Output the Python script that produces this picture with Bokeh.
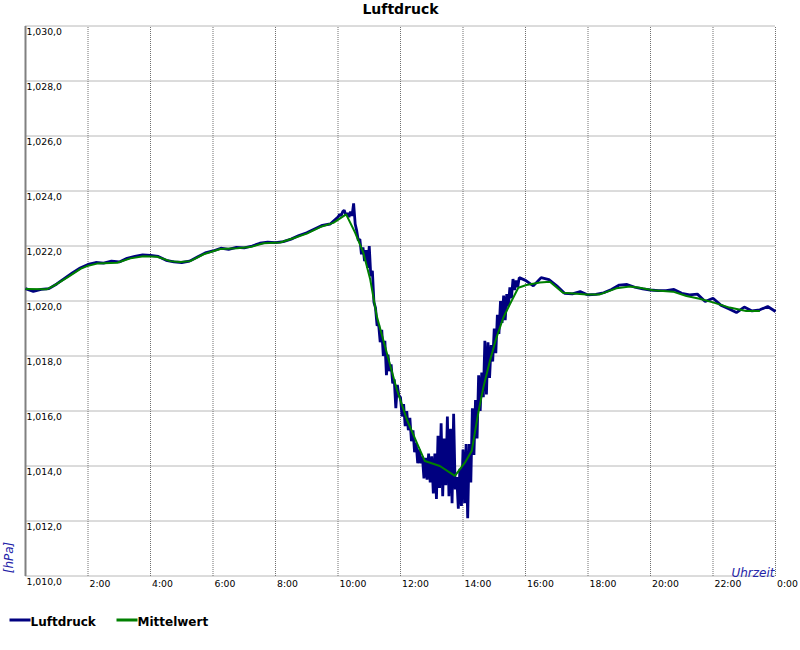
import numpy as np
from bokeh.plotting import figure
from bokeh.models import (Range1d, Label, LabelSet, ColumnDataSource, BoxAnnotation)
from bokeh.core.properties import value
from bokeh.embed import file_html
from bokeh.resources import INLINE

# ---------------- data ----------------
title_text = "Luftdruck"
y_unit = "[hPa]"
x_name = "Uhrzeit"
legend_names = ["Luftdruck", "Mittelwert"]

y_ticks = [1010, 1012, 1014, 1016, 1018, 1020, 1022, 1024, 1026, 1028, 1030]
y_tick_labels = ["1,010,0", "1,012,0", "1,014,0", "1,016,0", "1,018,0", "1,020,0",
                 "1,022,0", "1,024,0", "1,026,0", "1,028,0", "1,030,0"]
x_ticks = [0, 2, 4, 6, 8, 10, 12, 14, 16, 18, 20, 22, 24]
x_label_ticks = [2, 4, 6, 8, 10, 12, 14, 16, 18, 20, 22, 24]
x_tick_labels = ["2:00", "4:00", "6:00", "8:00", "10:00", "12:00", "14:00",
                 "16:00", "18:00", "20:00", "22:00", "0:00"]

# Luftdruck (raw), hours -> hPa
blue_h_a = [0.00, 0.25, 0.50, 0.75, 1.00, 1.25, 1.50, 1.75, 2.00, 2.25, 2.50, 2.75,
            3.00, 3.25, 3.50, 3.75, 4.00, 4.25, 4.50, 4.75, 5.00, 5.25, 5.50, 5.75,
            6.00, 6.25, 6.50, 6.75, 7.00, 7.25, 7.50, 7.75, 8.00, 8.25, 8.50, 8.75,
            9.00, 9.25, 9.50, 9.75]
blue_v_a = [1020.45, 1020.35, 1020.42, 1020.45, 1020.62, 1020.82, 1021.02, 1021.20,
            1021.33, 1021.40, 1021.38, 1021.45, 1021.42, 1021.55, 1021.62, 1021.68,
            1021.66, 1021.62, 1021.48, 1021.42, 1021.40, 1021.45, 1021.60, 1021.75,
            1021.82, 1021.92, 1021.88, 1021.95, 1021.93, 1022.00, 1022.10, 1022.14,
            1022.12, 1022.16, 1022.25, 1022.38, 1022.48, 1022.62, 1022.75, 1022.80]

blue_h_b = [round(10.0 + 0.05 * i, 2) for i in range(117)]  # 10:00 .. 15:48, 3-minute samples
blue_v_b = [
    1023.05, 1023.15, 1023.10, 1023.25, 1023.30, 1023.12, 1023.20, 1023.05, 1023.25, 1023.10,
    1023.55, 1022.80, 1022.55, 1022.20, 1022.25, 1021.70, 1021.95, 1021.45, 1021.85, 1021.20,
    1022.00, 1020.90, 1021.10, 1019.95, 1019.75, 1019.10, 1019.15, 1018.50, 1018.95, 1018.00,
    1018.55, 1017.30, 1018.05, 1017.45, 1017.70, 1017.00, 1017.15, 1016.10, 1016.95, 1016.55,
    1016.50, 1015.80, 1016.25, 1015.45, 1016.00, 1015.30, 1015.75, 1014.90, 1015.30, 1014.50,
    1014.85, 1014.10, 1014.60, 1014.10, 1014.35, 1013.55, 1014.30, 1013.50, 1014.45, 1013.40,
    1014.35, 1013.00, 1014.45, 1012.80, 1015.10, 1013.20, 1015.55, 1012.90, 1015.00, 1013.30,
    1015.80, 1012.90, 1015.35, 1012.65, 1015.90, 1013.15, 1013.60, 1012.45, 1013.90, 1012.55,
    1014.60, 1012.65, 1014.80, 1012.10, 1014.80, 1013.40, 1016.10, 1014.40, 1016.40, 1015.00,
    1017.30, 1016.00, 1017.40, 1016.50, 1018.55, 1016.60, 1018.50, 1017.20, 1018.40, 1017.80,
    1019.00, 1018.10, 1019.50, 1018.80, 1020.00, 1019.20, 1020.20, 1019.30, 1020.25, 1019.80,
    1020.50, 1020.10, 1020.80, 1020.40, 1020.75, 1020.50, 1020.85]

blue_h_c = [16.00, 16.25, 16.50, 16.75, 17.00, 17.25, 17.50, 17.75, 18.00, 18.25, 18.50,
            18.75, 19.00, 19.25, 19.50, 19.75, 20.00, 20.25, 20.50, 20.75, 21.00, 21.25,
            21.50, 21.75, 22.00, 22.25, 22.50, 22.75, 23.00, 23.25, 23.50, 23.75, 24.00]
blue_v_c = [1020.75, 1020.55, 1020.85, 1020.78, 1020.55, 1020.28, 1020.26, 1020.34,
            1020.22, 1020.24, 1020.30, 1020.42, 1020.58, 1020.60, 1020.50, 1020.44,
            1020.40, 1020.38, 1020.38, 1020.42, 1020.28, 1020.22, 1020.25, 1019.98,
            1020.10, 1019.85, 1019.72, 1019.58, 1019.78, 1019.64, 1019.68, 1019.80,
            1019.62]

# Mittelwert (smoothed)
green_h = [0.00, 0.69, 0.90, 1.33, 1.76, 1.97, 2.29, 2.93, 3.36, 3.78, 4.21, 4.63, 4.95,
           5.27, 5.70, 6.23, 6.77, 7.19, 7.62, 8.15, 8.57, 9.00, 9.43, 9.85, 10.26,
           10.55, 10.81, 11.03, 11.24, 11.56, 11.88, 12.20, 12.52, 12.78, 13.26, 13.74,
           14.06, 14.28, 14.49, 14.65, 14.86, 15.07, 15.29, 15.50, 15.77, 16.03, 16.46,
           16.78, 17.20, 17.95, 18.38, 18.91, 19.34, 19.65, 20.08, 20.72, 21.15, 21.57,
           22.00, 22.53, 23.06, 23.38, 23.50]
green_v = [1020.44, 1020.43, 1020.55, 1020.85, 1021.17, 1021.27, 1021.36, 1021.39,
           1021.55, 1021.63, 1021.61, 1021.45, 1021.42, 1021.45, 1021.70, 1021.89,
           1021.92, 1021.96, 1022.10, 1022.13, 1022.28, 1022.45, 1022.69, 1022.84,
           1023.15, 1022.48, 1021.76, 1020.79, 1019.45, 1018.12, 1016.79, 1015.70,
           1014.85, 1014.18, 1014.00, 1013.64, 1014.12, 1014.55, 1015.94, 1016.85,
           1017.82, 1018.67, 1019.39, 1019.88, 1020.48, 1020.58, 1020.67, 1020.70,
           1020.30, 1020.24, 1020.24, 1020.46, 1020.53, 1020.48, 1020.39, 1020.34,
           1020.18, 1020.08, 1019.95, 1019.76, 1019.64, 1019.64, 1019.64]

blue_h = blue_h_a + blue_h_b + blue_h_c
blue_v = blue_v_a + blue_v_b + blue_v_c
assert len(blue_h) == len(blue_v)
assert len(green_h) == len(green_v)

# ---------------- layout ----------------
FONT = "DejaVu Sans"
BLUE = "#000080"
GREEN = "#008000"
GRID = "#707070"
AXIS = "#808080"
LABEL_BLUE = "#2323a8"

W, H = 800, 648
# plot area spans canvas px 25..775 (x) and 25.5..575.5 (y)
PXH = 750 / 24.0
PXV = 550 / 20.0
TOP, BOT = 25.5, 575.5
x0 = 0 - 25 / PXH
x1 = 24 + (W - 775) / PXH
y1 = 1030 + TOP / PXV
y0 = 1010 - (H - BOT) / PXV


def dx(px):  # canvas px -> hours
    return (px - 25) / PXH


def dy(py):  # canvas px -> hPa
    return 1010 + (BOT - py) / PXV


p = figure(width=W, height=H, output_backend="svg", toolbar_location=None,
           x_axis_type=None, y_axis_type=None, title=None,
           x_range=Range1d(x0, x1), y_range=Range1d(y0, y1),
           min_border_left=0, min_border_right=0, min_border_top=0,
           min_border_bottom=0)
p.outline_line_color = None
p.background_fill_color = "white"
p.border_fill_color = "white"

y_lo, y_hi = y_ticks[0], y_ticks[-1]
x_lo, x_hi = x_ticks[0], x_ticks[-1]
vt = x_ticks[1:]
# dotted grid, limited to the plot area
p.segment(x0=vt, y0=[y_lo] * len(vt), x1=vt, y1=[y_hi] * len(vt),
          line_color=GRID, line_width=1, line_dash="1 1")
p.segment(x0=[x_lo] * len(y_ticks), y0=y_ticks, x1=[x_hi] * len(y_ticks), y1=y_ticks,
          line_color=GRID, line_width=1, line_dash="1 1")
# left axis line
p.segment(x0=[x_lo], y0=[y_lo], x1=[x_lo], y1=[y_hi], line_color=AXIS, line_width=2)

p.line(blue_h, blue_v, line_color=BLUE, line_width=2.8)
p.line(green_h, green_v, line_color=GREEN, line_width=2)

# tick labels
ysrc = ColumnDataSource(dict(x=[x_lo] * len(y_ticks), y=y_ticks, t=y_tick_labels))
p.add_layout(LabelSet(x="x", y="y", text="t", source=ysrc, x_offset=1, y_offset=-2,
                      text_baseline="top", text_align="left",
                      text_font=value(FONT), text_font_size="9.3px", text_color="black"))
xsrc = ColumnDataSource(dict(x=x_label_ticks, y=[y_lo] * len(x_label_ticks), t=x_tick_labels))
p.add_layout(LabelSet(x="x", y="y", text="t", source=xsrc, x_offset=1.5, y_offset=-2,
                      text_baseline="top", text_align="left",
                      text_font=value(FONT), text_font_size="9.3px", text_color="black"))

# title
p.add_layout(Label(x=dx(400), y=dy(8), text=title_text, text_align="center",
                   text_baseline="middle", text_font=FONT, text_font_size="14px",
                   text_font_style="bold", text_color="black"))

# axis names
p.add_layout(Label(x=dx(774), y=dy(572), text=x_name, text_align="right",
                   text_baseline="alphabetic", text_font=FONT, text_font_size="12px",
                   text_font_style="italic", text_color=LABEL_BLUE))
p.add_layout(Label(x=dx(8), y=dy(557), text=y_unit, text_align="center",
                   text_baseline="middle", angle=np.pi / 2, text_font=FONT,
                   text_font_size="12px", text_font_style="italic",
                   text_color=LABEL_BLUE))

# legend (below the plot)
p.add_layout(BoxAnnotation(left=dx(9), right=dx(30), top=dy(618), bottom=dy(621),
                           fill_color=BLUE, fill_alpha=1, line_color=None))
p.add_layout(Label(x=dx(30), y=dy(621), text=legend_names[0], text_align="left",
                   text_baseline="alphabetic", text_font=FONT, text_font_size="12px",
                   text_font_style="bold", text_color="black"))
p.add_layout(BoxAnnotation(left=dx(116), right=dx(137), top=dy(618), bottom=dy(621),
                           fill_color=GREEN, fill_alpha=1, line_color=None))
p.add_layout(Label(x=dx(137), y=dy(621), text=legend_names[1], text_align="left",
                   text_baseline="alphabetic", text_font=FONT, text_font_size="12px",
                   text_font_style="bold", text_color="black"))

open("out.html", "w").write(file_html(p, INLINE))
